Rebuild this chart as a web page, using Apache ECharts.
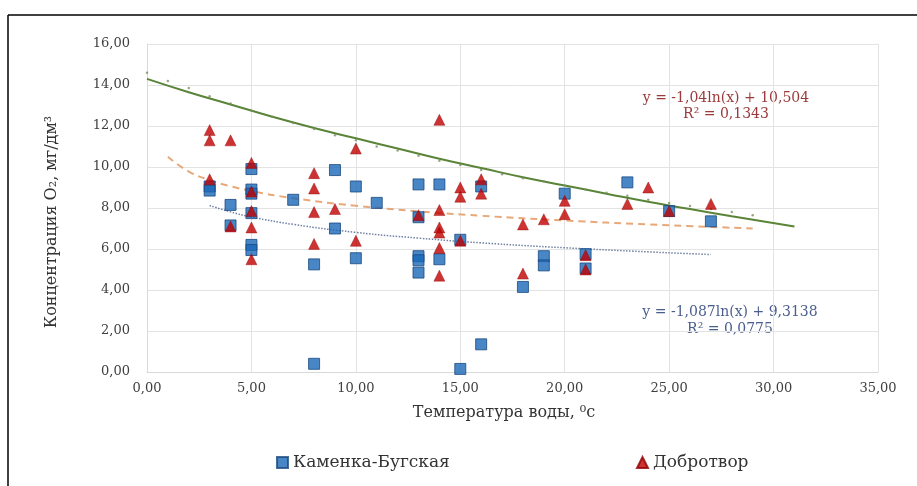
<!DOCTYPE html>
<html>
<head>
<meta charset="utf-8">
<script src="https://cdn.jsdelivr.net/npm/echarts@6/dist/echarts.min.js"></script>
<style>
html,body{margin:0;padding:0;background:#fff;}
#c{width:917px;height:486px;}
</style>
</head>
<body>
<div id="c"></div>
<script>
// Каменка-Бугская (x = temperature, y = O2)
const kamenkaX = [3,3,4,4,5,5,5,5,5,5,7,8,8,9,9,10,10,11,13,13,13,13,13,14,14,15,15,16,16,18,19,19,20,21,21,23,25,27];
const kamenkaY = [9.05,8.85,8.15,7.15,9.9,8.9,8.7,7.75,6.2,5.95,8.4,5.25,0.4,9.85,7.0,9.05,5.55,8.25,9.15,7.55,5.65,5.45,4.85,9.15,5.5,6.45,0.15,9.05,1.35,4.15,5.65,5.2,8.7,5.75,5.05,9.25,7.85,7.35];
// Добротвор
const dobrotvorX = [3,3,3,4,4,5,5,5,5,5,8,8,8,8,9,10,10,13,14,14,14,14,14,14,15,15,15,16,16,18,18,19,20,20,21,21,23,24,25,27];
const dobrotvorY = [11.8,11.3,9.4,11.3,7.1,10.2,8.8,7.85,7.05,5.5,9.7,8.95,7.8,6.25,7.95,10.9,6.4,7.65,12.3,7.9,7.05,6.8,6.05,4.7,9.0,8.55,6.4,9.4,8.7,7.2,4.8,7.45,8.35,7.7,5.7,5.0,8.2,9.0,7.85,8.2];
// Trend line for Добротвор (orange dashed)
const trendDobX = [1,2,3,4,5,7,10,13,16,20,24,29];
const trendDobY = [10.5,9.78,9.36,9.06,8.83,8.48,8.11,7.84,7.62,7.39,7.2,7.0];
// Trend line for Каменка-Бугская (blue dotted)
const trendKamX = [3,4,5,7,10,13,16,20,24,27];
const trendKamY = [8.12,7.81,7.56,7.2,6.81,6.53,6.3,6.06,5.86,5.73];
// Green solid curve
const greenX = [0,2,4,6,8,10,12,14,16,18,20,22,24,26,28,31];
const greenY = [14.3,13.65,13.05,12.45,11.9,11.4,10.9,10.4,9.95,9.5,9.1,8.7,8.3,7.95,7.6,7.1];
// Small dots along green curve
const dotsX = [0,1,2,3,4,5,6,7,8,9,10,11,12,13,14,15,16,17,18,19,20,21,22,23,24,25,26,27,28,29];
const dotsY = [14.6,14.2,13.85,13.45,13.1,12.75,12.45,12.15,11.85,11.55,11.3,11.0,10.8,10.55,10.3,10.1,9.85,9.65,9.45,9.3,9.1,8.9,8.75,8.6,8.4,8.25,8.1,7.95,7.8,7.65];
// Texts
const xTitle = 'Температура воды, ⁰с';
const yTitle = 'Концентрация O₂, мг/дм³';
const eqDob = ['y = -1,04ln(x) + 10,504', 'R² = 0,1343'];
const eqKam = ['y = -1,087ln(x) + 9,3138', 'R² = 0,0775'];

const zip = (xs, ys) => xs.map((x, i) => [x, ys[i]]);
const serif = '"DejaVu Serif","Liberation Serif",serif';

const chart = echarts.init(document.getElementById('c'), null, {renderer: 'canvas'});
chart.setOption({
  animation: false,
  backgroundColor: '#fff',
  grid: {left: 147, right: 39, top: 44, bottom: 114},
  xAxis: {
    type: 'value', min: 0, max: 35, interval: 5,
    axisLine: {show: true, lineStyle: {color: '#d9d9d9'}},
    axisTick: {show: false},
    splitLine: {show: true, lineStyle: {color: '#e3e3e3'}},
    axisLabel: {fontFamily: serif, fontSize: 13, color: '#404040', margin: 10,
      formatter: v => v.toFixed(2).replace('.', ',')}
  },
  yAxis: {
    type: 'value', min: 0, max: 16, interval: 2,
    axisLine: {show: true, lineStyle: {color: '#d9d9d9'}},
    axisTick: {show: false},
    splitLine: {show: true, lineStyle: {color: '#e3e3e3'}},
    axisLabel: {fontFamily: serif, fontSize: 13, color: '#404040', margin: 17,
      formatter: v => v.toFixed(2).replace('.', ',')}
  },
  legend: [
    {data: ['Каменка-Бугская'], left: 271, top: 449, itemWidth: 11, itemHeight: 11, itemGap: 6,
     textStyle: {fontFamily: serif, fontSize: 17, color: '#333'}},
    {data: ['Добротвор'], left: 631, top: 449, itemWidth: 11, itemHeight: 11, itemGap: 6,
     textStyle: {fontFamily: serif, fontSize: 17, color: '#333'}}
  ],
  graphic: [
    {type: 'line', shape: {x1: 8, y1: 15, x2: 917, y2: 15}, style: {stroke: '#000', lineWidth: 1.5}},
    {type: 'line', shape: {x1: 8, y1: 15, x2: 8, y2: 486}, style: {stroke: '#000', lineWidth: 1.5}},
    {type: 'text', x: 504, y: 413, style: {text: xTitle, font: '16px ' + serif, fill: '#333', align: 'center', verticalAlign: 'middle'}},
    {type: 'text', x: 52, y: 222, rotation: Math.PI / 2, style: {text: yTitle, font: '16px ' + serif, fill: '#333', align: 'center', verticalAlign: 'middle'}},
    {type: 'text', x: 726, y: 98, style: {text: eqDob[0], font: '14px ' + serif, fill: '#9a3a3a', align: 'center', verticalAlign: 'middle'}},
    {type: 'text', x: 726, y: 114, style: {text: eqDob[1], font: '14px ' + serif, fill: '#9a3a3a', align: 'center', verticalAlign: 'middle'}},
    {type: 'text', x: 730, y: 312, style: {text: eqKam[0], font: '14px ' + serif, fill: '#4a5e8e', align: 'center', verticalAlign: 'middle'}},
    {type: 'text', x: 730, y: 329, style: {text: eqKam[1], font: '14px ' + serif, fill: '#4a5e8e', align: 'center', verticalAlign: 'middle'}}
  ],
  series: [
    {name: 'green', type: 'line', data: zip(greenX, greenY), smooth: true, showSymbol: false,
     lineStyle: {color: '#5a8438', width: 2}, z: 2},
    {name: 'dots', type: 'scatter', data: zip(dotsX, dotsY), symbol: 'circle', symbolSize: 2.5,
     itemStyle: {color: '#7d8f62'}, z: 2},
    {name: 'trendDob', type: 'line', data: zip(trendDobX, trendDobY), smooth: true, showSymbol: false,
     lineStyle: {color: '#e8a878', width: 2, type: [7, 5]}, z: 2},
    {name: 'trendKam', type: 'line', data: zip(trendKamX, trendKamY), smooth: true, showSymbol: false,
     lineStyle: {color: '#6f80a3', width: 1.5, type: [1.5, 1.5]}, z: 2},
    {name: 'Каменка-Бугская', type: 'scatter', data: zip(kamenkaX, kamenkaY), symbol: 'rect', symbolSize: 11,
     itemStyle: {color: '#1a68b8', borderColor: '#1a4a80', borderWidth: 1}, z: 3},
    {name: 'Добротвор', type: 'scatter', data: zip(dobrotvorX, dobrotvorY), symbol: 'triangle', symbolSize: 11,
     itemStyle: {color: '#c00000', borderColor: '#900000', borderWidth: 0.5}, z: 4}
  ]
});
</script>
</body>
</html>
